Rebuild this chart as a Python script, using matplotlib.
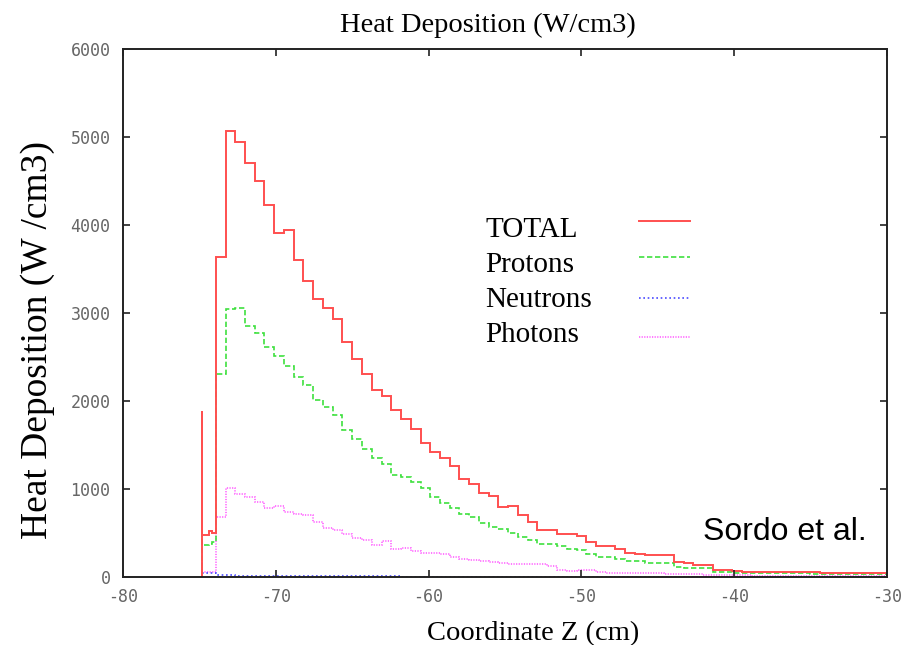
import matplotlib
matplotlib.use("Agg")
import matplotlib.pyplot as plt
from matplotlib.lines import Line2D

# ---------------- data ----------------
z_edges = [-74.84, -74.80, -74.40, -74.15,
           -73.93, -73.29, -72.65, -72.02, -71.38, -70.74, -70.10, -69.46, -68.83, -68.19,
           -67.55, -66.91, -66.27, -65.64, -65.00, -64.36, -63.72, -63.08, -62.45, -61.81,
           -61.17, -60.53, -59.89, -59.26, -58.62, -57.98, -57.34, -56.70, -56.07, -55.43,
           -54.79, -54.15, -53.51, -52.88, -52.24, -51.60, -50.96, -50.32, -49.69, -49.05,
           -48.41, -47.77, -47.13, -46.50, -45.86, -45.22, -44.58, -43.94, -43.31, -42.67,
           -42.03, -41.39, -40.75, -40.12, -39.48, -38.84, -38.20, -37.56, -36.93, -36.29,
           -35.65, -35.01, -34.37, -33.74, -33.10, -32.46, -31.82, -31.18, -30.55, -29.91]

total = [1890, 477, 527, 496,
         3636, 5063, 4938, 4710, 4501, 4224, 3905, 3940, 3605, 3363,
         3158, 3054, 2930, 2673, 2478, 2309, 2129, 2055, 1898, 1792,
         1678, 1526, 1417, 1349, 1265, 1110, 1057, 958, 920, 799,
         810, 705, 621, 534, 534, 489, 489, 466, 394, 352,
         352, 314, 269, 262, 255, 252, 250, 170, 158, 136,
         136, 80, 75, 64, 62, 62, 61, 60, 60, 58,
         55, 52, 50, 48, 46, 45, 42, 40, 40]

protons = [1630, 360, 375, 395,
           2307, 3042, 3061, 2852, 2769, 2617, 2511, 2400, 2273, 2184,
           2011, 1928, 1845, 1674, 1564, 1456, 1350, 1282, 1159, 1133,
           1083, 1015, 913, 844, 781, 716, 686, 610, 572, 542,
           496, 458, 420, 371, 371, 356, 318, 307, 261, 231,
           231, 208, 182, 182, 155, 155, 155, 110, 106, 104,
           100, 55, 52, 50, 48, 47, 46, 45, 44, 42,
           40, 38, 36, 35, 34, 33, 32, 30, 30]

neutrons = [170, 45, 45, 50,
            20, 18, 16, 15, 14, 13, 12, 11, 10, 10,
            9, 9, 8, 8, 7, 7, 6, 6, 6, 5,
            5, 5, 5, 4, 4, 4, 4, 4, 3, 3,
            3, 3, 3, 3, 3, 3, 3, 2, 2, 2,
            2, 2, 2, 2, 2, 2, 2, 2, 2, 2,
            2, 2, 2, 2, 2, 2, 2, 2, 2, 2,
            2, 2, 2, 2, 2, 2, 2, 2, 2]

photons = [150, 60, 60, 60,
           686, 1015, 939, 913, 856, 788, 807, 737, 714, 705,
           629, 560, 534, 492, 445, 424, 358, 405, 314, 326,
           299, 276, 278, 261, 231, 201, 190, 186, 174, 163,
           150, 144, 144, 144, 130, 80, 72, 75, 80, 60,
           50, 48, 45, 45, 42, 40, 38, 35, 32, 30,
           28, 22, 20, 19, 18, 17, 16, 15, 14, 13,
           12, 12, 11, 11, 10, 10, 10, 9, 9]

series_labels = ["TOTAL", "Protons", "Neutrons", "Photons"]
x_ticks = [-80, -70, -60, -50, -40, -30]
y_ticks = [0, 1000, 2000, 3000, 4000, 5000, 6000]

# ---------------- figure ----------------
W, H = 915, 645
fig = plt.figure(figsize=(W / 100, H / 100), dpi=100)
fig.patch.set_facecolor("white")

def fx(px):
    return px / W

def fy(py):
    return 1 - py / H

L, R, T, B = 123, 887, 49, 577
ax = fig.add_axes([fx(L), fy(B), (R - L) / W, (B - T) / H])

styles = [
    dict(color="#ff4f4f", lw=1.4, ls="-"),
    dict(color="#3ee03e", lw=1.2, ls=(0, (3.2, 1.6))),
    dict(color="#4a4aff", lw=1.2, ls=(0, (1.0, 1.6))),
    dict(color="#ff55ff", lw=1.1, ls=(0, (0.8, 0.9))),
]
data = [total, protons, neutrons, photons]

# draw in order so that total is on top
for vals, st in zip(data[::-1], styles[::-1]):
    ax.stairs(vals, z_edges, baseline=0, fill=False,
              color=st["color"], linewidth=st["lw"], linestyle=st["ls"])

ax.set_xlim(-80, -30)
ax.set_ylim(0, 6000)
ax.set_xticks(x_ticks)
ax.set_yticks(y_ticks)

tick_font = dict(family="DejaVu Sans Mono", size=12)
ax.set_xticklabels([f"{v}" for v in x_ticks], fontdict=tick_font, color="#666666")
ax.set_yticklabels([f"{v}" for v in y_ticks], fontdict=tick_font, color="#666666")
ax.tick_params(direction="in", length=5, width=1.2, top=True, right=True,
               colors="#222222", labelcolor="#666666")
ax.tick_params(axis="x", pad=8)
ax.tick_params(axis="y", pad=9)
for sp in ax.spines.values():
    sp.set_linewidth(1.4)
    sp.set_color("#222222")

serif = ["Liberation Serif", "DejaVu Serif"]

# title and axis labels
fig.text(fx(488), fy(32), "Heat Deposition (W/cm3)", ha="center", va="baseline",
         family=serif, fontsize=20.5)
fig.text(fx(533), fy(640), "Coordinate Z (cm)", ha="center", va="baseline",
         family=serif, fontsize=20.5)
fig.text(fx(38), fy(340), "Heat Deposition (W /cm3)", ha="center", va="center",
         rotation=90, family=serif, fontsize=27)

# key (gnuplot-style: labels left, samples right)
label_base = [236.7, 271.7, 306.7, 341.7]
sample_y = [220.7, 257.3, 297.7, 336.7]
for lab, yb, ys, st in zip(series_labels, label_base, sample_y, styles):
    fig.text(fx(485), fy(yb), lab, ha="left", va="baseline", family=serif, fontsize=21)
    fig.add_artist(Line2D([fx(639), fx(690)], [fy(ys), fy(ys)], transform=fig.transFigure,
                          color=st["color"], linewidth=st["lw"], linestyle=st["ls"]))

# attribution
fig.text(fx(703), fy(539.5), "Sordo et al.", ha="left", va="baseline",
         family=["Liberation Sans", "DejaVu Sans"], fontsize=23)

fig.savefig("out.png", dpi=100, facecolor="white")
